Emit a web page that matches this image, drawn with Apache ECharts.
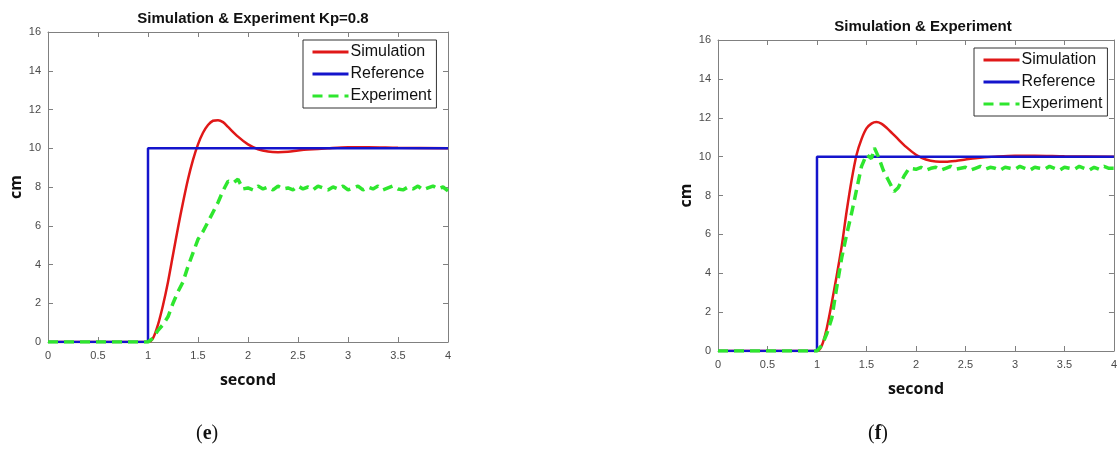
<!DOCTYPE html>
<html>
<head>
<meta charset="utf-8">
<script src="https://cdn.jsdelivr.net/npm/echarts@6/dist/echarts.min.js"></script>
<style>
    html, body { margin: 0; padding: 0; background: #ffffff; }
    #chart { width: 1120px; height: 455px; }
</style>
</head>
<body>
<div id="chart"></div>
<script>
// x ticks / y ticks
var xTicks = [0, 0.5, 1, 1.5, 2, 2.5, 3, 3.5, 4];
var yTicks = [0, 2, 4, 6, 8, 10, 12, 14, 16];

// reference step (same for both plots)
var refTime = [0, 1, 1, 4];
var refValue = [0, 0, 10, 10];

// (e) Kp=0.8
var simTimeE = [0, 1, 1.05, 1.1, 1.15, 1.2, 1.25, 1.3, 1.35, 1.4, 1.45, 1.5, 1.55, 1.6, 1.65, 1.7, 1.75, 1.8, 1.9, 2.0, 2.1, 2.2, 2.3, 2.4, 2.5, 2.6, 2.8, 3.0, 3.2, 3.5, 4];
var simValueE = [0, 0, 0.2, 0.9, 1.9, 3.1, 4.5, 5.9, 7.2, 8.4, 9.4, 10.2, 10.8, 11.2, 11.42, 11.45, 11.35, 11.1, 10.6, 10.2, 9.95, 9.83, 9.8, 9.82, 9.88, 9.93, 10.0, 10.05, 10.05, 10.02, 10.0];
var expTimeE = [0, 1, 1.05, 1.1, 1.15, 1.2, 1.25, 1.3, 1.35, 1.4, 1.45, 1.5, 1.55, 1.6, 1.65, 1.7, 1.75, 1.8, 1.85, 1.9, 1.95,
    2.0, 2.05, 2.1, 2.15, 2.2, 2.25, 2.3, 2.35, 2.4, 2.45, 2.5, 2.55, 2.6, 2.65, 2.7, 2.75, 2.8, 2.85, 2.9, 2.95,
    3.0, 3.05, 3.1, 3.15, 3.2, 3.25, 3.3, 3.35, 3.4, 3.45, 3.5, 3.55, 3.6, 3.65, 3.7, 3.75, 3.8, 3.85, 3.9, 3.95, 4.0];
var expValueE = [0, 0, 0.2, 0.6, 0.9, 1.3, 2.0, 2.6, 3.1, 3.9, 4.6, 5.3, 5.7, 6.2, 6.7, 7.2, 7.8, 8.3, 8.2, 8.4, 7.9,
    7.95, 7.85, 8.05, 7.9, 8.0, 7.85, 8.05, 7.9, 7.95, 7.85, 8.05, 7.9, 8.0, 7.85, 8.05, 7.95, 7.85, 8.0, 7.9, 8.05,
    7.85, 7.95, 8.05, 7.85, 8.0, 7.9, 8.05, 7.85, 7.95, 8.05, 7.9, 7.85, 8.0, 7.9, 8.05, 7.85, 7.95, 8.05, 7.9, 8.0, 7.8];

// (f)
var simTimeF = [0, 1, 1.05, 1.1, 1.15, 1.2, 1.25, 1.3, 1.35, 1.4, 1.45, 1.5, 1.55, 1.6, 1.65, 1.7, 1.8, 1.9, 2.0, 2.1, 2.2, 2.3, 2.4, 2.5, 2.6, 2.8, 3.0, 3.2, 3.5, 4];
var simValueF = [0, 0, 0.3, 1.2, 2.5, 3.9, 5.4, 7.2, 8.8, 10.1, 10.9, 11.45, 11.7, 11.78, 11.7, 11.5, 11.0, 10.5, 10.1, 9.85, 9.75, 9.74, 9.78, 9.85, 9.92, 10.0, 10.05, 10.05, 10.02, 10.0];
var expTimeF = [0, 1, 1.05, 1.1, 1.15, 1.2, 1.25, 1.3, 1.35, 1.4, 1.45, 1.5, 1.55, 1.58, 1.62, 1.67, 1.72, 1.78, 1.82, 1.88, 1.93,
    2.0, 2.05, 2.1, 2.15, 2.2, 2.25, 2.3, 2.35, 2.4, 2.45, 2.5, 2.55, 2.6, 2.65, 2.7, 2.75, 2.8, 2.85, 2.9, 2.95,
    3.0, 3.05, 3.1, 3.15, 3.2, 3.25, 3.3, 3.35, 3.4, 3.45, 3.5, 3.55, 3.6, 3.65, 3.7, 3.75, 3.8, 3.85, 3.9, 3.95, 4.0];
var expValueF = [0, 0, 0.3, 0.9, 1.7, 3.3, 4.8, 6.0, 7.1, 8.3, 9.5, 10.1, 9.9, 10.45, 10.0, 9.3, 8.8, 8.2, 8.4, 9.0, 9.4,
    9.35, 9.45, 9.3, 9.4, 9.45, 9.3, 9.4, 9.5, 9.35, 9.4, 9.45, 9.3, 9.4, 9.5, 9.35, 9.45, 9.4, 9.3, 9.45, 9.4,
    9.35, 9.5, 9.4, 9.3, 9.45, 9.4, 9.35, 9.5, 9.4, 9.3, 9.45, 9.4, 9.35, 9.5, 9.4, 9.3, 9.45, 9.35, 9.5, 9.4, 9.4];

function pairs(t, v) {
    return t.map(function (x, i) { return [x, v[i]]; });
}

var colors = { sim: '#e01818', ref: '#1414cc', exp: '#2ee62e' };
var boxColor = '#808080';
var tickFont = { color: '#4a4a4a', fontSize: 11, fontFamily: 'Liberation Sans, Arial' };
var nameFont = { color: '#111', fontSize: 16, fontWeight: 'bold', fontFamily: 'Open Sans' };

function xAxes(gi) {
    return [
        {
            type: 'value', gridIndex: gi, min: 0, max: 4, interval: 0.5,
            name: 'second', nameLocation: 'middle', nameGap: 30, nameTextStyle: nameFont,
            axisLine: { onZero: false, lineStyle: { color: boxColor } },
            axisTick: { inside: true, length: 5, lineStyle: { color: boxColor } },
            axisLabel: Object.assign({ margin: 8 }, tickFont),
            splitLine: { show: false }
        },
        {
            type: 'value', gridIndex: gi, min: 0, max: 4, interval: 0.5, position: 'top',
            axisLine: { onZero: false, lineStyle: { color: boxColor } },
            axisTick: { inside: true, length: 5, lineStyle: { color: boxColor } },
            axisLabel: { show: false },
            splitLine: { show: false }
        }
    ];
}

function yAxes(gi) {
    return [
        {
            type: 'value', gridIndex: gi, min: 0, max: 16, interval: 2,
            name: 'cm', nameLocation: 'middle', nameGap: 24, nameRotate: 90, nameTextStyle: nameFont,
            axisLine: { show: true, onZero: false, lineStyle: { color: boxColor } },
            axisTick: { show: true, inside: true, length: 5, lineStyle: { color: boxColor } },
            axisLabel: Object.assign({ margin: 7 }, tickFont),
            splitLine: { show: false }
        },
        {
            type: 'value', gridIndex: gi, min: 0, max: 16, interval: 2, position: 'right',
            axisLine: { show: true, onZero: false, lineStyle: { color: boxColor } },
            axisTick: { show: true, inside: true, length: 5, lineStyle: { color: boxColor } },
            axisLabel: { show: false },
            splitLine: { show: false }
        }
    ];
}

function lineSeries(name, data, axisIdx, color, width, dashed) {
    return {
        name: name, type: 'line', data: data, xAxisIndex: axisIdx, yAxisIndex: axisIdx,
        symbol: 'none', smooth: name === 'Simulation' ? 0.3 : false, animation: false,
        lineStyle: { color: color, width: width, type: dashed ? [10, 6] : 'solid' },
        itemStyle: { color: color }
    };
}

function legendAt(left, top) {
    return {
        orient: 'vertical', left: left, top: top,
        data: ['Simulation', 'Reference', 'Experiment'],
        backgroundColor: '#fff', borderColor: '#333', borderWidth: 1,
        padding: [4, 5, 4, 8], itemGap: 6, itemWidth: 36, itemHeight: 16,
        itemStyle: { opacity: 0, borderWidth: 0 },
        lineStyle: { width: 3 },
        textStyle: { fontSize: 16, color: '#111', fontFamily: 'Liberation Sans, Arial', padding: [0, 0, 0, -3] },
        selectedMode: false
    };
}

var chart = echarts.init(document.getElementById('chart'), null, { renderer: 'canvas' });
chart.setOption({
    backgroundColor: '#ffffff',
    animation: false,
    title: [
        {
            text: 'Simulation & Experiment Kp=0.8', left: 248, top: 6, textAlign: 'center',
            textStyle: { fontSize: 15, fontWeight: 'bold', color: '#111', fontFamily: 'Liberation Sans, Arial' }
        },
        {
            text: 'Simulation & Experiment', left: 918, top: 14, textAlign: 'center',
            textStyle: { fontSize: 15, fontWeight: 'bold', color: '#111', fontFamily: 'Liberation Sans, Arial' }
        }
    ],
    legend: [legendAt(303, 40), legendAt(974, 48)],
    grid: [
        { left: 48, right: 672, top: 32, bottom: 113 },
        { left: 718, right: 1, top: 40, bottom: 104 }
    ],
    xAxis: xAxes(0).concat(xAxes(1)),
    yAxis: yAxes(0).concat(yAxes(1)),
    series: [
        lineSeries('Simulation', pairs(simTimeE, simValueE), 0, colors.sim, 2.5, false),
        lineSeries('Reference', pairs(refTime, refValue), 0, colors.ref, 2.5, false),
        lineSeries('Experiment', pairs(expTimeE, expValueE), 0, colors.exp, 3.5, true),
        lineSeries('Simulation', pairs(simTimeF, simValueF), 2, colors.sim, 2.5, false),
        lineSeries('Reference', pairs(refTime, refValue), 2, colors.ref, 2.5, false),
        lineSeries('Experiment', pairs(expTimeF, expValueF), 2, colors.exp, 3.5, true)
    ],
    graphic: [
        {
            type: 'text', left: 196, top: 424,
            style: { text: '({b|e})', rich: { b: { fontWeight: 'bold', fontSize: 20, fontFamily: 'Liberation Serif' } }, fontSize: 20, fontFamily: 'Liberation Serif', fill: '#111' }
        },
        {
            type: 'text', left: 868, top: 424,
            style: { text: '({b|f})', rich: { b: { fontWeight: 'bold', fontSize: 20, fontFamily: 'Liberation Serif' } }, fontSize: 20, fontFamily: 'Liberation Serif', fill: '#111' }
        }
    ]
});
</script>
</body>
</html>
